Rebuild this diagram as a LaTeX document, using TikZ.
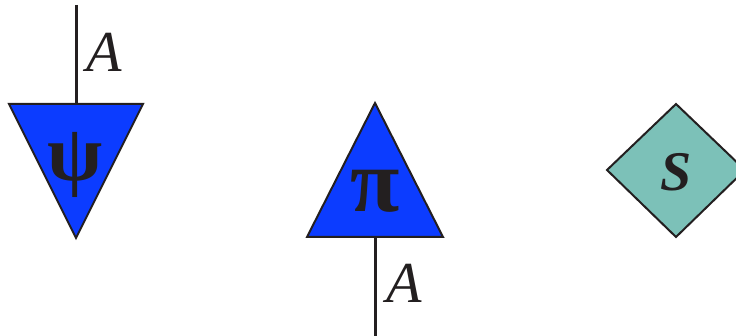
\documentclass[tikz,border=0pt]{standalone}
\usepackage{fontspec}
\setmainfont{Liberation Serif}
\definecolor{tblue}{RGB}{12,60,255}
\definecolor{tteal}{RGB}{124,193,184}
\definecolor{ink}{RGB}{35,31,32}
\begin{document}
\begin{tikzpicture}[x=1pt,y=-1pt,
  shapeline/.style={draw=ink,line width=2pt,line join=miter},
  wire/.style={draw=ink,line width=3pt},
  lbl/.style={font=\fontsize{58}{58}\selectfont\itshape,inner sep=0pt,text=ink},
  sym/.style={font=\fontsize{80}{80}\selectfont\bfseries,inner sep=0pt,text=ink}]
\useasboundingbox (0,0) rectangle (736,336);
\clip (0,0) rectangle (736,336);
% psi state
\coordinate (w1top) at (76,5);
\coordinate (psiin) at (76,104);
\path[shapeline,fill=tblue] (9,104) -- (143,104) -- (76,238) -- cycle;
\draw[wire] (w1top) -- (psiin);
\node[sym] (psi) at (75,165) {ψ};
\node[lbl,anchor=base west] (A1) at (86,72) {A};
% pi effect
\coordinate (piout) at (375,237);
\coordinate (w2bot) at (375,336);
\path[shapeline,fill=tblue] (307,237) -- (443,237) -- (375,103) -- cycle;
\draw[wire] (piout) -- (w2bot);
\node[sym,font=\fontsize{90}{90}\selectfont\bfseries] (pi) at (375,191) {π};
\node[lbl,anchor=base west] (A2) at (386,303) {A};
% scalar
\path[shapeline,fill=tteal] (607,170) -- (676,104) -- (745,170) -- (676,237) -- cycle;
\node[lbl,font=\fontsize{56}{56}\selectfont\bfseries\itshape] (s) at (676,172) {S};
\end{tikzpicture}
\end{document}
